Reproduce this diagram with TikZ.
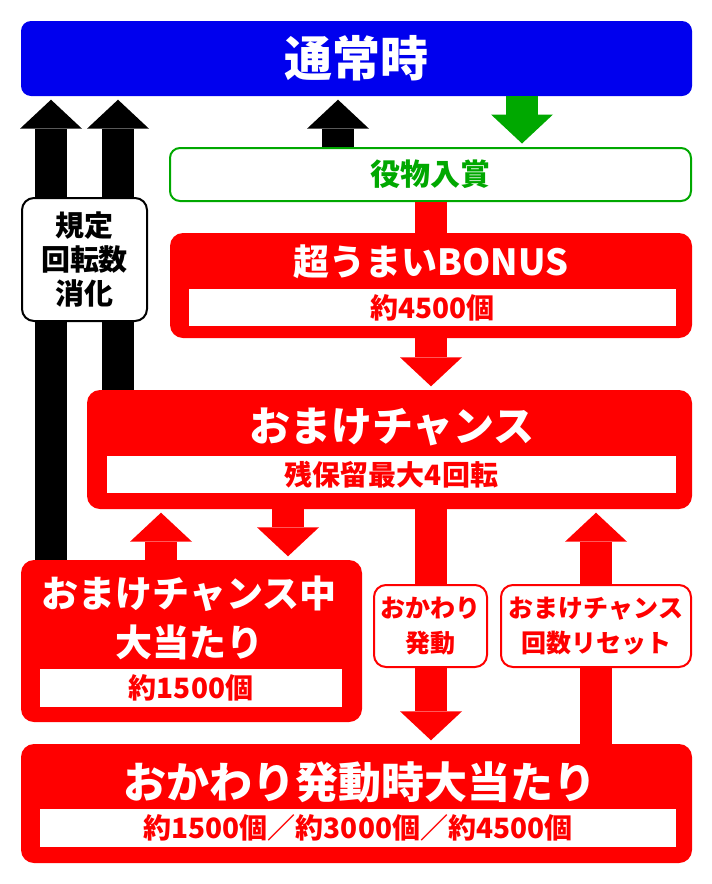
\documentclass[tikz,border=0pt]{standalone}
\usepackage{fontspec}
\setmainfont{Noto Sans CJK JP}
\usetikzlibrary{arrows.meta,calc}
\definecolor{hitred}{HTML}{FF0000}
\definecolor{normblue}{HTML}{0000EE}
\definecolor{yakugreen}{HTML}{00A800}

\begin{document}
\begin{tikzpicture}[
    x=1pt, y=-1pt,
    redbox/.style={rectangle, rounded corners=13pt, fill=hitred, inner sep=0pt},
    countbox/.style={rectangle, fill=white, inner sep=0pt, text=hitred,
                     font=\fontsize{28}{30}\selectfont\bfseries},
    headtext/.style={text=white, inner sep=0pt, align=center},
    tagbox/.style={rectangle, rounded corners=12pt, draw=hitred, line width=2pt,
                   fill=white, text=hitred, align=center, inner sep=0pt,
                   font=\fontsize{25}{35}\selectfont\bfseries},
    flow/.style={line width=32pt, shorten >=3.5pt,
                 -{Triangle[length=29pt, width=62pt, line width=0pt]}}
  ]

  \useasboundingbox (0,0) rectangle (712,884);

  % ---- Normal play ----
  \node[rectangle, rounded corners=10pt, fill=normblue, inner sep=0pt,
        minimum width=671pt, minimum height=75pt, text=white,
        font=\fontsize{48}{50}\selectfont\bfseries]
    (tsujo) at (356.5,58.5) {通常時};

  \node[rectangle, rounded corners=10pt, draw=yakugreen, line width=2pt,
        fill=white, inner sep=0pt, minimum width=521pt, minimum height=53pt,
        text=yakugreen, font=\fontsize{30}{32}\selectfont\bfseries]
    (yakumono) at (430.5,174.5) {役物入賞};

  % ---- Bonus ----
  \node[redbox, minimum width=522pt, minimum height=105pt] (bonus) at (431,285.5) {};
  \node[headtext, font=\fontsize{36}{38}\selectfont\bfseries]
    (bonustitle) at (431,262) {超うまいBONUS};
  \node[countbox, minimum width=487pt, minimum height=37pt]
    (bonuscount) at (432.5,307.5) {約4500個};

  % ---- Omake chance ----
  \node[redbox, minimum width=605pt, minimum height=119pt] (omake) at (389.5,449.5) {};
  \node[headtext, font=\fontsize{41}{43}\selectfont\bfseries]
    (omaketitle) at (392,427) {おまけチャンス};
  \node[countbox, minimum width=569pt, minimum height=37pt]
    (omakecount) at (391.5,474.5) {残保留最大4回転};

  \node[redbox, minimum width=341pt, minimum height=162pt] (omakechu) at (191.5,641) {};
  \node[headtext, font=\fontsize{37}{49}\selectfont\bfseries]
    (omakechutitle) at (189,617.5) {おまけチャンス中\\大当たり};
  \node[countbox, minimum width=302pt, minimum height=38pt]
    (omakechucount) at (191,688) {約1500個};

  % ---- Okawari ----
  \node[redbox, minimum width=671pt, minimum height=119pt] (okawarihit) at (356.5,803.5) {};
  \node[headtext, font=\fontsize{43}{45}\selectfont\bfseries]
    (okawarititle) at (360,782) {おかわり発動時大当たり};
  \node[countbox, minimum width=636pt, minimum height=38pt]
    (okawaricount) at (358,828) {約1500個／約3000個／約4500個};

  % ---- Arrow columns ----
  \coordinate (colA) at (51,0);
  \coordinate (colB) at (118,0);
  \coordinate (colC) at (338,0);
  \coordinate (colD) at (522,0);
  \coordinate (colE) at (431,0);
  \coordinate (colF) at (161,0);
  \coordinate (colG) at (288,0);
  \coordinate (colH) at (596,0);

  \draw[flow] (omakechu.north -| colA) -- (tsujo.south -| colA);
  \draw[flow] (omake.north -| colB) -- (tsujo.south -| colB);
  \draw[flow] (yakumono.north -| colC) -- (tsujo.south -| colC);
  \draw[flow, yakugreen] (tsujo.south -| colD) -- (yakumono.north -| colD);

  \draw[hitred, line width=32pt] (yakumono.south -| colE) -- (bonus.north -| colE);
  \draw[flow, hitred] (bonus.south -| colE) -- (omake.north -| colE);
  \draw[flow, hitred] (omakechu.north -| colF) -- (omake.south -| colF);
  \draw[flow, hitred] (omake.south -| colG) -- (omakechu.north -| colG);
  \draw[flow, hitred] (omake.south -| colE) -- (okawarihit.north -| colE);
  \draw[flow, hitred] (okawarihit.north -| colH) -- (omake.south -| colH);

  % ---- Labels on the arrows ----
  \node[rectangle, rounded corners=12pt, draw=black, line width=2pt, fill=white,
        inner sep=0pt, minimum width=125pt, minimum height=123pt, align=center,
        font=\fontsize{29}{34}\selectfont\bfseries]
    (kitei) at (84.5,259.5) {規定\\回転数\\消化};
  \node[tagbox, minimum width=113pt, minimum height=82pt]
    (okawaritag) at (430.5,626) {おかわり\\発動};
  \node[tagbox, minimum width=190pt, minimum height=82pt]
    (resettag) at (596,626) {おまけチャンス\\回数リセット};

\end{tikzpicture}
\end{document}
